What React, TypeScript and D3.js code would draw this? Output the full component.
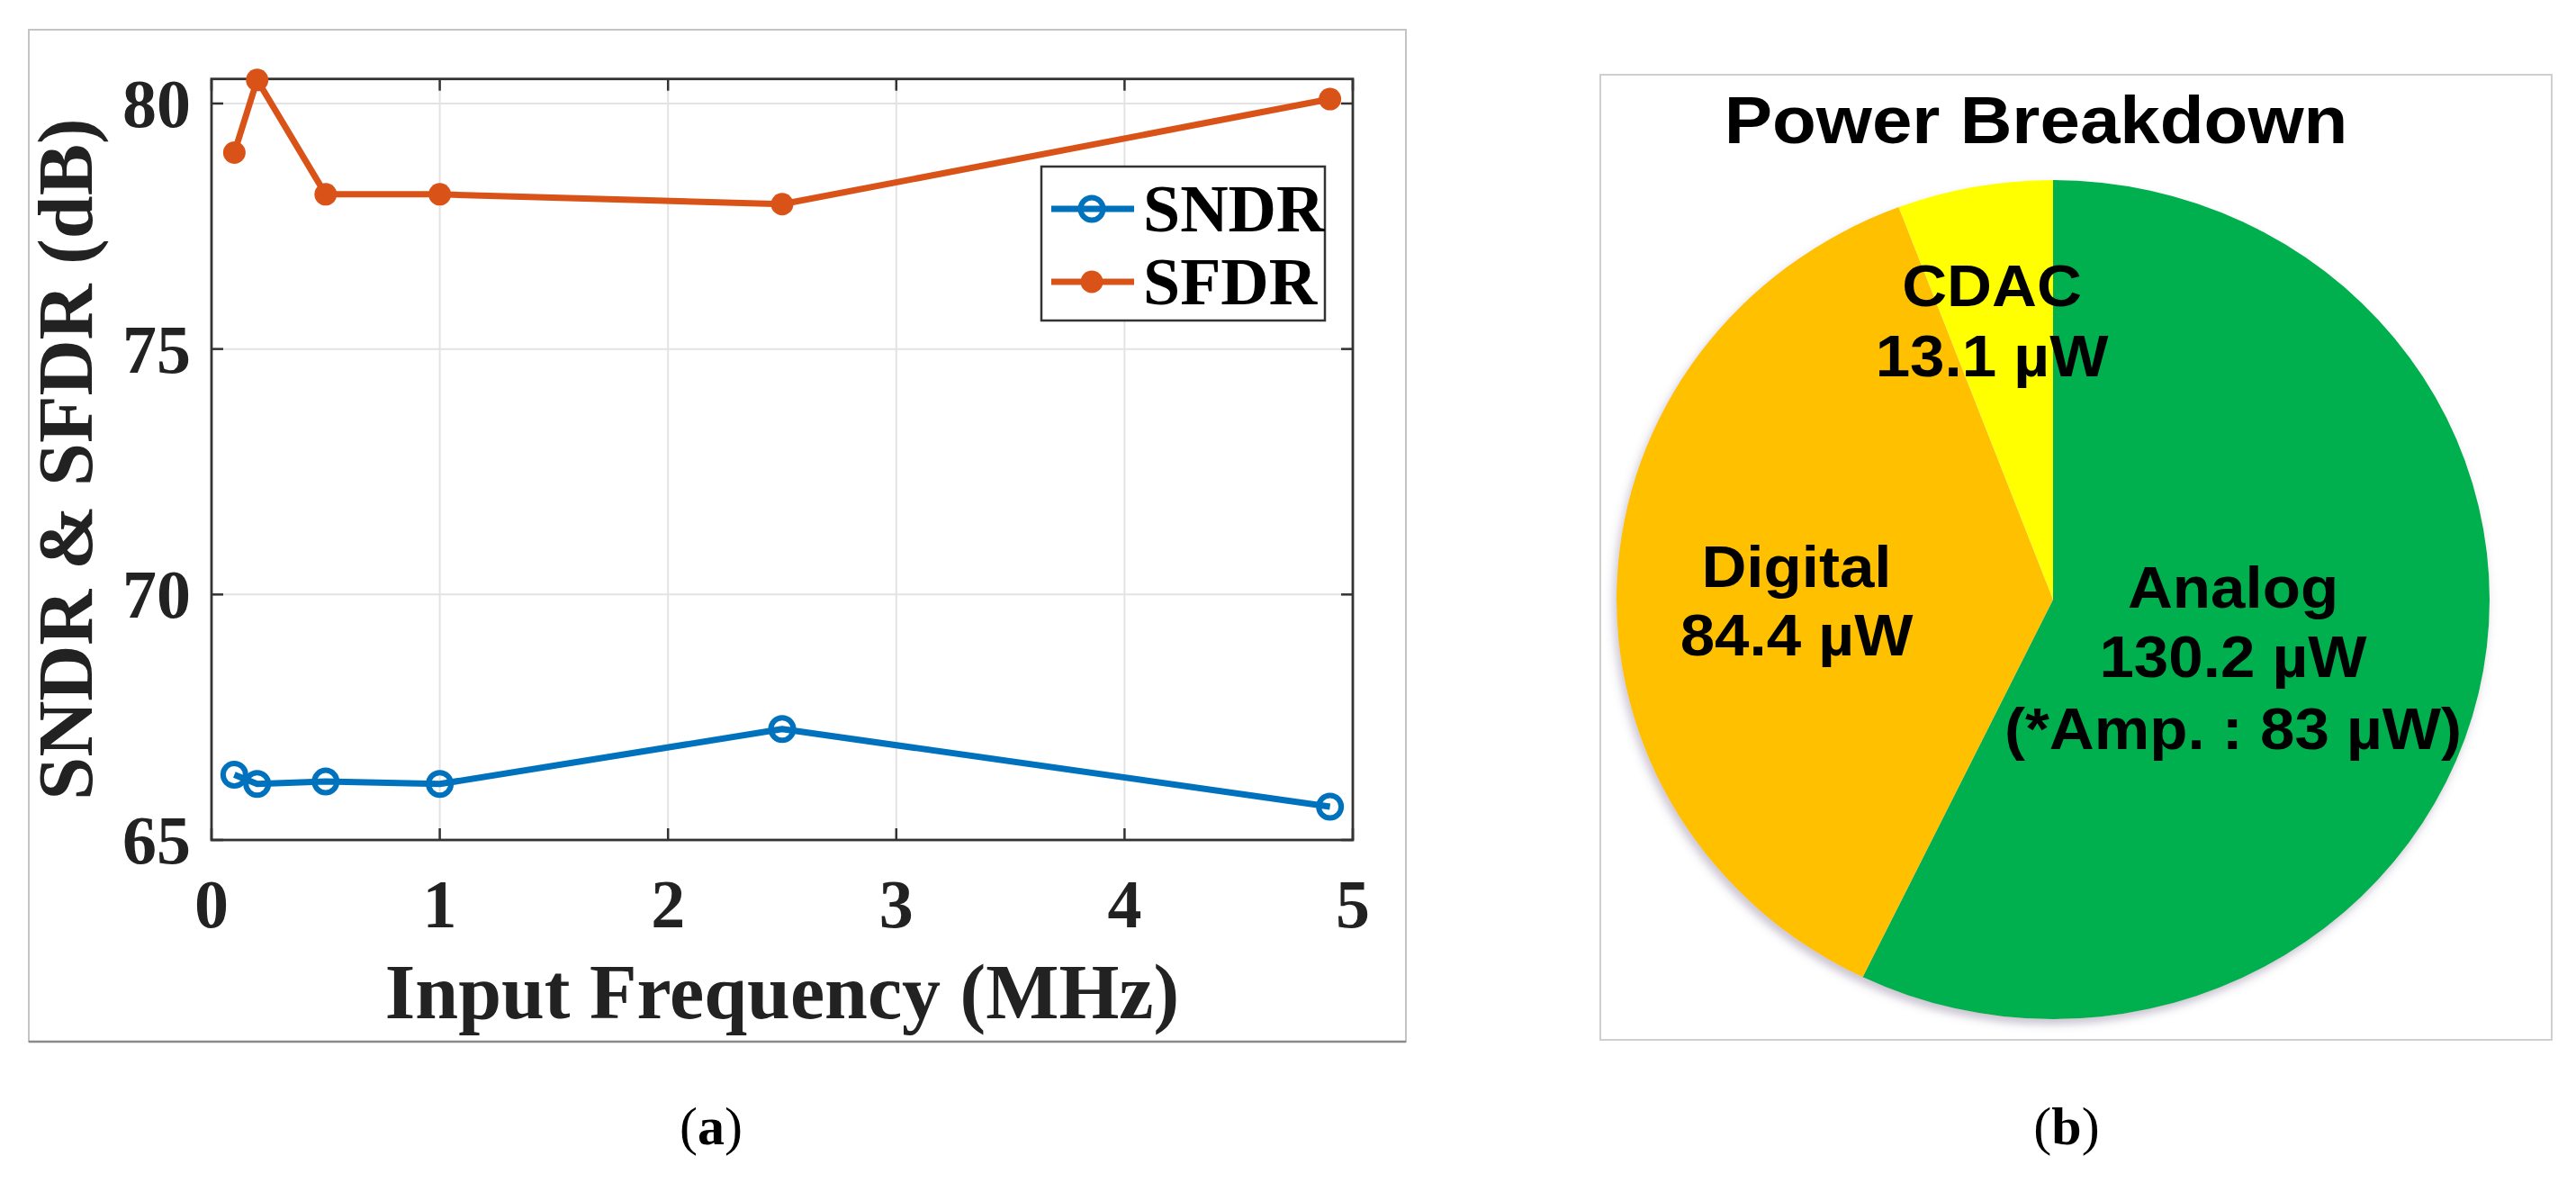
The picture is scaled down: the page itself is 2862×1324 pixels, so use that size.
import React from "react";
import * as d3 from "d3";

// ---------- data ----------
const freqMHz = [0.1, 0.2, 0.5, 1.0, 2.5, 4.9];
const sndr = [66.33, 66.14, 66.19, 66.14, 67.26, 65.68];
const sfdr = [79.0, 80.48, 78.15, 78.15, 77.95, 80.09];
const xTicks = [0, 1, 2, 3, 4, 5];
const yTicks = [65, 70, 75, 80];

const powerLabels = ["Analog", "Digital", "CDAC"];
const powerValues = [130.2, 84.4, 13.1];
const powerColors = ["#00B050", "#FFC000", "#FFFF00"];

const W = 2862;
const H = 1324;
const serif = "'Liberation Serif', 'Times New Roman', serif";
const sans = "'Liberation Sans', Arial, sans-serif";

const BLUE = "#0072BD";
const ORANGE = "#D95319";

function LinePanel() {
  const x = d3.scaleLinear().domain([0, 5]).range([235, 1503]);
  const y = d3.scaleLinear().domain([65, 80.5]).range([933, 87.7]);
  const line = d3
    .line<number>()
    .x((_, i) => x(freqMHz[i]))
    .y((d) => y(d));
  const [x0, x1] = x.range();
  const [y0, y1] = y.range();
  const tickLen = 13;
  const axisColor = "#333333";
  return (
    <g>
      {/* panel frame */}
      <rect x={32} y={33} width={1530} height={1124} fill="#fff" stroke="#c4c4c4" strokeWidth={2} />
      <line x1={32} y1={1157} x2={1562} y2={1157} stroke="#8a8a8a" strokeWidth={2.5} />
      {/* grid */}
      {xTicks.slice(1, -1).map((t) => (
        <line key={"gx" + t} x1={x(t)} x2={x(t)} y1={y0} y2={y1} stroke="#e3e3e3" strokeWidth={2} />
      ))}
      {yTicks.slice(1).map((t) => (
        <line key={"gy" + t} x1={x0} x2={x1} y1={y(t)} y2={y(t)} stroke="#e3e3e3" strokeWidth={2} />
      ))}
      {/* ticks */}
      {xTicks.map((t) => (
        <g key={"tx" + t}>
          <line x1={x(t)} x2={x(t)} y1={y0} y2={y0 - tickLen} stroke={axisColor} strokeWidth={2.5} />
          <line x1={x(t)} x2={x(t)} y1={y1} y2={y1 + tickLen} stroke={axisColor} strokeWidth={2.5} />
          <text x={x(t)} y={1030} textAnchor="middle" fontFamily={serif} fontWeight="bold" fontSize={76} fill="#222">
            {t}
          </text>
        </g>
      ))}
      {yTicks.map((t) => (
        <g key={"ty" + t}>
          <line x1={x0} x2={x0 + tickLen} y1={y(t)} y2={y(t)} stroke={axisColor} strokeWidth={2.5} />
          <line x1={x1} x2={x1 - tickLen} y1={y(t)} y2={y(t)} stroke={axisColor} strokeWidth={2.5} />
          <text x={212} y={y(t) + 26} textAnchor="end" fontFamily={serif} fontWeight="bold" fontSize={76} fill="#222">
            {t}
          </text>
        </g>
      ))}
      {/* axes box */}
      <rect x={x0} y={y1} width={x1 - x0} height={y0 - y1} fill="none" stroke={axisColor} strokeWidth={2.8} />
      {/* series */}
      <path d={line(sfdr) || ""} fill="none" stroke={ORANGE} strokeWidth={7} strokeLinejoin="round" />
      {sfdr.map((v, i) => (
        <circle key={"sf" + i} cx={x(freqMHz[i])} cy={y(v)} r={12.5} fill={ORANGE} />
      ))}
      <path d={line(sndr) || ""} fill="none" stroke={BLUE} strokeWidth={7} strokeLinejoin="round" />
      {sndr.map((v, i) => (
        <circle key={"sn" + i} cx={x(freqMHz[i])} cy={y(v)} r={12.5} fill="none" stroke={BLUE} strokeWidth={6} />
      ))}
      {/* legend */}
      <rect x={1157} y={185} width={315} height={171} fill="#fff" stroke="#333" strokeWidth={2.5} />
      <line x1={1168} x2={1260} y1={232} y2={232} stroke={BLUE} strokeWidth={7} />
      <circle cx={1213} cy={232} r={12.5} fill="none" stroke={BLUE} strokeWidth={6} />
      <text x={1270} y={257} fontFamily={serif} fontWeight="bold" fontSize={74} fill="#000">
        SNDR
      </text>
      <line x1={1168} x2={1260} y1={313} y2={313} stroke={ORANGE} strokeWidth={7} />
      <circle cx={1213} cy={313} r={12.5} fill={ORANGE} />
      <text x={1270} y={338} fontFamily={serif} fontWeight="bold" fontSize={74} fill="#000">
        SFDR
      </text>
      {/* axis titles */}
      <text x={869} y={1131} textAnchor="middle" fontFamily={serif} fontWeight="bold" fontSize={86} fill="#222">
        Input Frequency (MHz)
      </text>
      <text
        transform="translate(102,510) rotate(-90)"
        textAnchor="middle"
        fontFamily={serif}
        fontWeight="bold"
        fontSize={86}
        fill="#222"
      >
        SNDR &amp; SFDR (dB)
      </text>
      {/* caption */}
      <text x={790} y={1271} textAnchor="middle" fontFamily={serif} fontSize={60} fill="#000">
        (<tspan fontWeight="bold">a</tspan>)
      </text>
    </g>
  );
}

function PiePanel() {
  const cx = 2281;
  const cy = 666;
  const ry = 466;
  const sx = 485 / 466;
  const pie = d3.pie<number>().sort(null).value((d) => d);
  const arcs = pie(powerValues);
  const arc = d3.arc<d3.PieArcDatum<number>>().innerRadius(0).outerRadius(ry);
  const textSX = 1.08;
  const fs = 64;
  const label = (lines: string[], x: number, baselines: number[]) =>
    lines.map((s, i) => (
      <text
        key={s}
        transform={`translate(${x},${baselines[i]}) scale(${textSX},1)`}
        textAnchor="middle"
        fontFamily={sans}
        fontWeight="bold"
        fontSize={fs}
        fill="#000"
      >
        {s}
      </text>
    ));
  return (
    <g>
      <defs>
        <filter id="pieShadow" x="-10%" y="-10%" width="120%" height="120%">
          <feDropShadow dx={-3} dy={6} stdDeviation={5} floodColor="#8a7a9a" floodOpacity={0.45} />
        </filter>
      </defs>
      <rect x={1778} y={83} width={1057} height={1072} fill="#fff" stroke="#cfcfcf" strokeWidth={2} />
      <g transform={`translate(${cx},${cy}) scale(${sx},1)`} filter="url(#pieShadow)">
        {arcs.map((a, i) => (
          <path key={powerLabels[i]} d={arc(a) || ""} fill={powerColors[i]} />
        ))}
      </g>
      <text
        transform={`translate(2262,159) scale(${textSX},1)`}
        textAnchor="middle"
        fontFamily={sans}
        fontWeight="bold"
        fontSize={74}
        fill="#000"
      >
        Power Breakdown
      </text>
      {label([powerLabels[2], `${powerValues[2]} µW`], 2213, [340, 418])}
      {label([powerLabels[1], `${powerValues[1]} µW`], 1996, [652, 728])}
      {label([powerLabels[0], `${powerValues[0]} µW`, "(*Amp. : 83 µW)"], 2481, [675, 752, 832])}
      <text x={2296} y={1271} textAnchor="middle" fontFamily={serif} fontSize={60} fill="#000">
        (<tspan fontWeight="bold">b</tspan>)
      </text>
    </g>
  );
}

export default function App() {
  return (
    <svg
      width={W}
      height={H}
      viewBox={`0 0 ${W} ${H}`}
      style={{ position: "absolute", left: 0, top: 0, background: "#fff" }}
    >
      <rect x={0} y={0} width={W} height={H} fill="#fff" />
      <LinePanel />
      <PiePanel />
    </svg>
  );
}
